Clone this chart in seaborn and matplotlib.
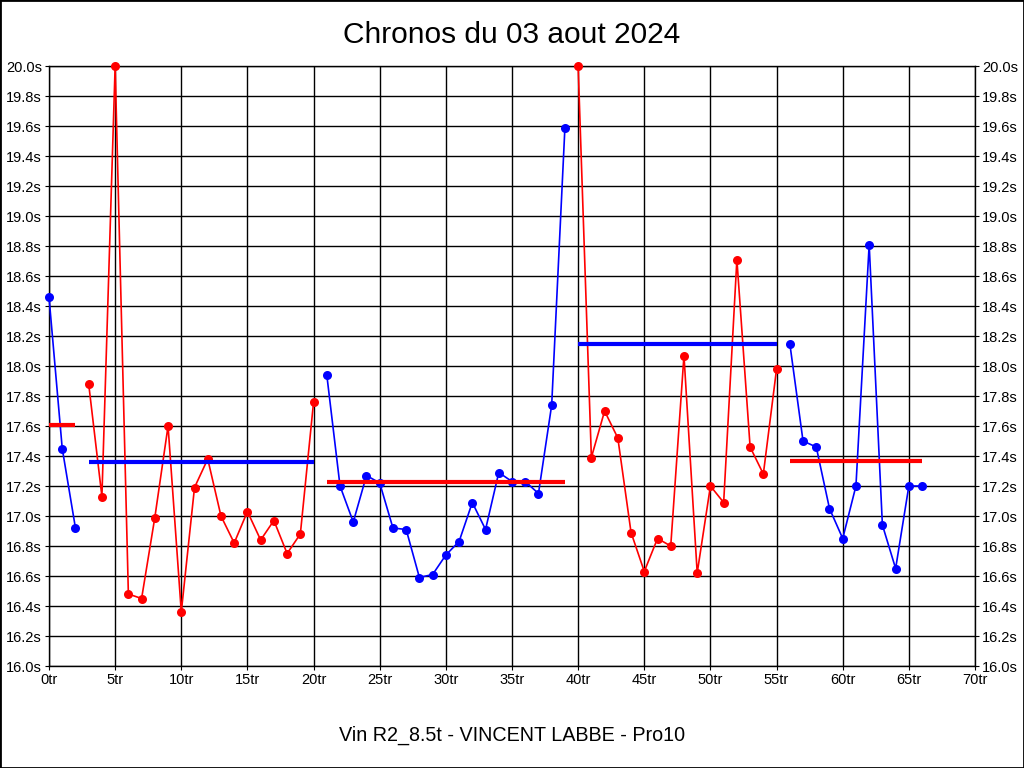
import numpy as np
import pandas as pd
import seaborn as sns
import matplotlib.pyplot as plt

# lap times per segment (alternating blue / red)
tours = list(range(0, 67))
temps = [18.46, 17.45, 16.92,
         17.88, 17.13, 20.00, 16.48, 16.45, 16.99, 17.60, 16.36, 17.19, 17.38,
         17.00, 16.82, 17.03, 16.84, 16.97, 16.75, 16.88, 17.76,
         17.94, 17.20, 16.96, 17.27, 17.22, 16.92, 16.91, 16.59, 16.61, 16.74,
         16.83, 17.09, 16.91, 17.29, 17.23, 17.23, 17.15, 17.74, 19.59,
         20.00, 17.39, 17.70, 17.52, 16.89, 16.63, 16.85, 16.80, 18.07, 16.62,
         17.20, 17.09, 18.71, 17.46, 17.28, 17.98,
         18.15, 17.50, 17.46, 17.05, 16.85, 17.20, 18.81, 16.94, 16.65, 17.20, 17.20]
seg_start = [0, 3, 21, 40, 56]
seg_end = [2, 20, 39, 55, 66]
seg_color = ['blue', 'red', 'blue', 'red', 'blue']
moy = [17.61, 17.36, 17.23, 18.15, 17.37]
moy_color = ['red', 'blue', 'red', 'blue', 'red']

segment = []
for i, t in enumerate(tours):
    for k in range(len(seg_start)):
        if seg_start[k] <= t <= seg_end[k]:
            segment.append(k)
df = pd.DataFrame({'tour': tours, 'temps': temps, 'segment': segment})

plt.rcParams['font.family'] = ['Liberation Sans Narrow', 'Liberation Sans', 'DejaVu Sans']

fig = plt.figure(figsize=(10.24, 7.68), dpi=100)
ax = fig.add_axes([49/1024, 1-666/768, 926/1024, 600/768])

sns.lineplot(data=df, x='tour', y='temps', hue='segment', units='segment', estimator=None,
             palette={k: c for k, c in enumerate(seg_color)}, marker='o', markersize=6.5,
             markeredgewidth=0, linewidth=1.2, sort=False, legend=False, ax=ax, zorder=3,
             clip_on=False)

# segment averages
for k in range(len(moy)):
    ax.hlines(moy[k], seg_start[k], seg_end[k], color=moy_color[k], linewidth=3, zorder=4)

ax.set_xlim(0, 70)
ax.set_ylim(16.0, 20.0)
ax.set_xticks(np.arange(0, 71, 5))
ax.set_xticklabels([f'{v}tr' for v in range(0, 71, 5)])
yt = np.arange(16.0, 20.01, 0.2)
ax.set_yticks(yt)
ax.set_yticklabels([f'{v:.1f}s' for v in yt])
ax.grid(True, color='black', linewidth=1)
ax.set_axisbelow(True)
for s in ax.spines.values():
    s.set_color('black')
    s.set_linewidth(1)
ax.tick_params(axis='both', labelsize=10.5, length=3, color='black', pad=2)
ax.tick_params(axis='y', right=True, labelright=True)
ax.set_xlabel('')
ax.set_ylabel('')

fig.text(0.5, 1-35/768, 'Chronos du 03 aout 2024', ha='center', va='center', fontsize=21.5,
         family=['Liberation Sans', 'DejaVu Sans'])
fig.text(0.5, 1-735/768, 'Vin R2_8.5t - VINCENT LABBE - Pro10', ha='center', va='center', fontsize=14.2)
fig.add_artist(plt.Rectangle((0, 0), 1, 1, fill=False, ec='black', lw=2, transform=fig.transFigure))

fig.savefig('out.png', dpi=100)
